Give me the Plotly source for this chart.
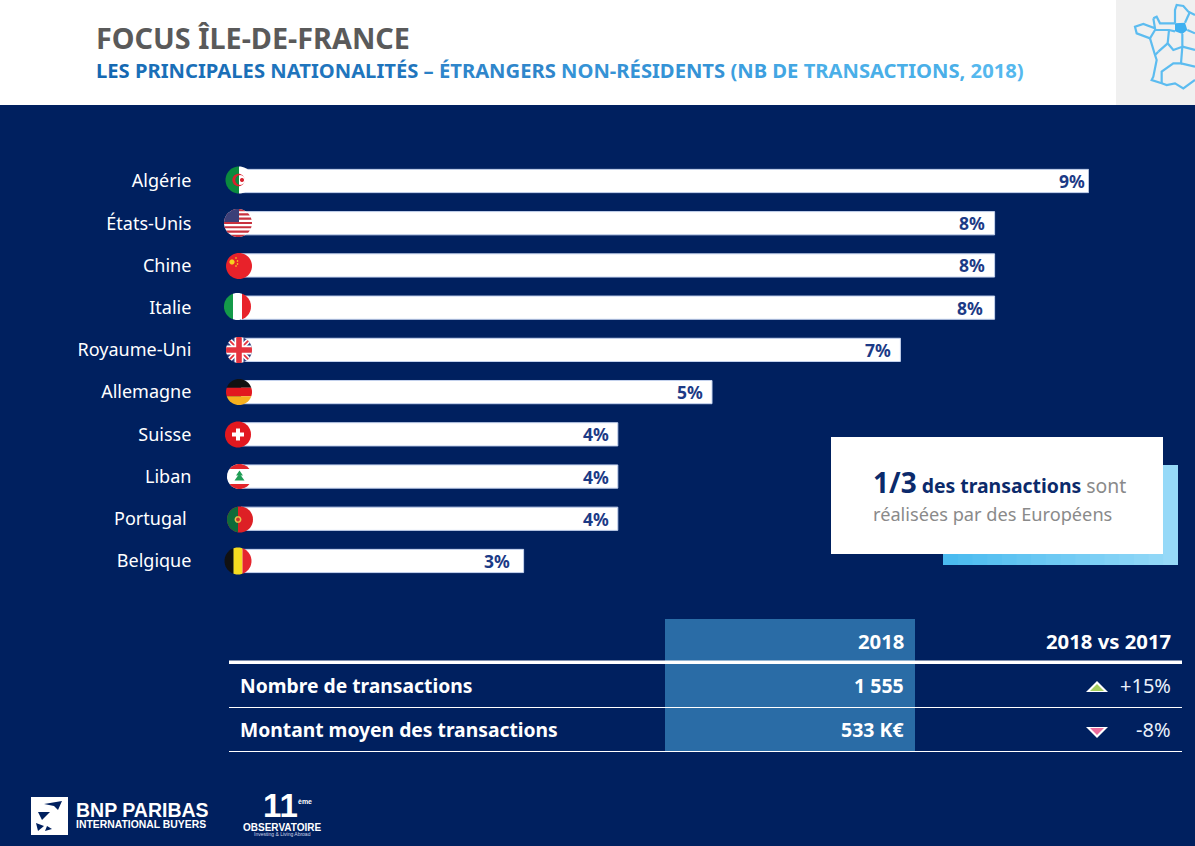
import math
import plotly.graph_objects as go

categories = ["Algérie", "États-Unis", "Chine", "Italie", "Royaume-Uni", "Allemagne", "Suisse", "Liban", "Portugal\u00a0", "Belgique"]
values = [9, 8, 8, 8, 7, 5, 4, 4, 4, 3]
value_labels = ["9%", "8%", "8%", "8%", "7%", "5%", "4%", "4%", "4%", "3%"]
label_shift = [-1.5, -7.5, -7.5, -9.5, -7.5, -7.5, -6.5, -6.5, -6.5, -11.5]
table_rows = ["Nombre de transactions", "Montant moyen des transactions"]
table_2018 = ["1 555", "533 K€"]
table_delta = ["+15%", "-8%"]
subtitle_words = ["LES", "PRINCIPALES", "NATIONALITÉS", "–", "ÉTRANGERS", "NON-RÉSIDENTS", "(NB", "DE", "TRANSACTIONS,", "2018)"]
subtitle_colors = ["#1468b2", "#1a6fb8", "#1f75bd", "#2a80c5", "#2f86cb", "#3593d6", "#3d9fdf", "#42a6e3", "#4aafe8", "#55b8ee"]

W, H = 1195, 846
NAVY = "#00205f"
FONT = "Noto Sans"
fig = go.Figure()
shapes = []
annots = []

def rect(x0, y0, x1, y1, color, layer="below"):
    shapes.append(dict(type="rect", xref="x2", yref="y2", x0=x0, y0=y0, x1=x1, y1=y1,
                       fillcolor=color, line_width=0, layer=layer))

def poly(points, color, layer="above"):
    p = "M" + " L".join(f"{a:.2f},{b:.2f}" for a, b in points) + " Z"
    shapes.append(dict(type="path", xref="x2", yref="y2", path=p, fillcolor=color, line_width=0, layer=layer))

def line(points, color, width, layer="above"):
    p = "M" + " L".join(f"{a:.2f},{b:.2f}" for a, b in points)
    shapes.append(dict(type="path", xref="x2", yref="y2", path=p, line=dict(color=color, width=width), layer=layer))

def text(x, y, s, size, color, anchor="left", bold=False, family=FONT):
    t = f"<b>{s}</b>" if bold else s
    annots.append(dict(xref="x2", yref="y2", x=x, y=y, text=t, showarrow=False, xanchor=anchor, yanchor="middle",
                       font=dict(size=size, color=color, family=family), borderpad=0, borderwidth=0))

def circle(cx, cy, r, n=48):
    return [(cx + r * math.cos(2 * math.pi * i / n), cy + r * math.sin(2 * math.pi * i / n)) for i in range(n)]

def clip(subject, clipper):
    out = subject
    for i in range(len(clipper)):
        a, b = clipper[i], clipper[(i + 1) % len(clipper)]
        inside = lambda p: (b[0] - a[0]) * (p[1] - a[1]) - (b[1] - a[1]) * (p[0] - a[0]) >= 0
        def cross(p, q):
            dx1, dy1 = q[0] - p[0], q[1] - p[1]
            dx2, dy2 = b[0] - a[0], b[1] - a[1]
            den = dx1 * dy2 - dy1 * dx2
            t = ((a[0] - p[0]) * dy2 - (a[1] - p[1]) * dx2) / den
            return (p[0] + t * dx1, p[1] + t * dy1)
        res = []
        for j in range(len(out)):
            p, q = out[j], out[(j + 1) % len(out)]
            if inside(p):
                res.append(p)
                if not inside(q):
                    res.append(cross(p, q))
            elif inside(q):
                res.append(cross(p, q))
        out = res
        if not out:
            break
    return out

def piece(cx, cy, r, x0, y0, x1, y1, color):
    c = [(cx + x0, cy + y0), (cx + x1, cy + y0), (cx + x1, cy + y1), (cx + x0, cy + y1)]
    poly(clip(circle(cx, cy, r), c), color)

def diag(cx, cy, r, x0, y0, x1, y1, w, color):
    dx, dy = x1 - x0, y1 - y0
    L = math.hypot(dx, dy)
    nx, ny = -dy / L * w / 2, dx / L * w / 2
    c = [(cx + x0 - nx, cy + y0 - ny), (cx + x1 - nx, cy + y1 - ny), (cx + x1 + nx, cy + y1 + ny), (cx + x0 + nx, cy + y0 + ny)]
    poly(clip(circle(cx, cy, r), c), color)

def flags():
    # Algeria
    cx, cy, r = 239, 180, 13.5
    piece(cx, cy, r, 0, -14, 14, 14, "#ffffff")
    piece(cx, cy, r, -14, -14, 0, 14, "#0b8a3e")
    poly(circle(cx - 0.5, cy, 6.2), "#d8202c")
    inner = circle(cx + 1.2, cy, 4.9)
    poly(clip(inner, [(cx - 8, cy - 8), (cx, cy - 8), (cx, cy + 8), (cx - 8, cy + 8)]), "#0b8a3e")
    poly(clip(inner, [(cx, cy - 8), (cx + 8, cy - 8), (cx + 8, cy + 8), (cx, cy + 8)]), "#ffffff")
    poly(circle(cx + 3, cy, 2), "#d8202c")
    # USA
    cx, cy, r = 238, 223, 14
    poly(circle(cx, cy, r), "#ffffff")
    for i in range(7):
        y0 = -14 + i * 4.3
        piece(cx, cy, r, -14, y0, 14, y0 + 2.15, "#c8313e")
    piece(cx, cy, r, -14, -14, 1, -1, "#3c3f78")
    # China
    cx, cy, r = 239, 266, 13
    poly(circle(cx, cy, r), "#e8222a")
    poly(circle(cx - 7, cy - 4, 2.6), "#f6d21e")
    for dx, dy in [(-3, -8), (-1.5, -5), (-1.5, -2), (-3, 0)]:
        poly(circle(cx + dx, cy + dy, 0.8), "#f6d21e")
    # Italy
    cx, cy, r = 237.5, 306.5, 13.5
    piece(cx, cy, r, -14, -14, -4.5, 14, "#149a49")
    piece(cx, cy, r, -4.5, -14, 4.5, 14, "#ffffff")
    piece(cx, cy, r, 4.5, -14, 14, 14, "#e8222a")
    # UK
    cx, cy, r = 239, 350, 13
    poly(circle(cx, cy, r), "#2f3f80")
    diag(cx, cy, r, -13, -13, 13, 13, 5, "#ffffff")
    diag(cx, cy, r, -13, 13, 13, -13, 5, "#ffffff")
    diag(cx, cy, r, -13, -13, 13, 13, 1.8, "#e5323e")
    diag(cx, cy, r, -13, 13, 13, -13, 1.8, "#e5323e")
    piece(cx, cy, r, -4.5, -14, 4.5, 14, "#ffffff")
    piece(cx, cy, r, -14, -4.5, 14, 4.5, "#ffffff")
    piece(cx, cy, r, -2.8, -14, 2.8, 14, "#e5323e")
    piece(cx, cy, r, -14, -2.8, 14, 2.8, "#e5323e")
    # Germany
    cx, cy, r = 239, 392, 13
    piece(cx, cy, r, -14, -14, 14, -4.3, "#111111")
    piece(cx, cy, r, -14, -4.3, 14, 4.3, "#e2181f")
    piece(cx, cy, r, -14, 4.3, 14, 14, "#f6b01e")
    # Switzerland
    cx, cy, r = 238, 434.5, 13
    poly(circle(cx, cy, r), "#e2181f")
    piece(cx, cy, r, -6, -2, 6, 2, "#ffffff")
    piece(cx, cy, r, -2, -6, 2, 6, "#ffffff")
    # Lebanon
    cx, cy, r = 239.5, 476.5, 12.5
    poly(circle(cx, cy, r), "#ffffff")
    piece(cx, cy, r, -14, -14, 14, -7.5, "#e2252b")
    piece(cx, cy, r, -14, 7.5, 14, 14, "#e2252b")
    poly([(cx, cy - 6), (cx + 3.5, cy - 1), (cx - 3.5, cy - 1)], "#1f9d55")
    poly([(cx, cy - 3), (cx + 5, cy + 4), (cx - 5, cy + 4)], "#1f9d55")
    # Portugal
    cx, cy, r = 240, 519.5, 13
    poly(circle(cx, cy, r), "#dd2025")
    piece(cx, cy, r, -14, -14, -2, 14, "#0f6b3a")
    poly(circle(cx - 2, cy, 3.4), "#e6c34a")
    poly(circle(cx - 2, cy, 1.9), "#c9302c")
    # Belgium
    cx, cy, r = 238, 561, 13.5
    piece(cx, cy, r, -14, -14, -4.5, 14, "#111111")
    piece(cx, cy, r, -4.5, -14, 4.5, 14, "#f6dc20")
    piece(cx, cy, r, 4.5, -14, 14, 14, "#e5262e")

# background bands
rect(0, 0, W, 105, "#ffffff")
rect(1116, 0, W, 105, "#f0f0f0")

# bars, through the axes
bar_left, unit = 241, 94.2
row0, row_step = 181, 42.22
fig.add_trace(go.Bar(
    y=categories, x=values, orientation="h", width=0.55, xaxis="x", yaxis="y",
    marker=dict(color="#ffffff", line=dict(color="#c4d2ee", width=1)),
    hoverinfo="skip", showlegend=False))
for c, v, s, dx in zip(categories, values, value_labels, label_shift):
    annots.append(dict(xref="x", yref="y", x=v, y=c, text=f"<b>{s}</b>", showarrow=False, xanchor="right",
                       yanchor="middle", xshift=dx, yshift=0, font=dict(size=17.5, color="#1c3a86", family=FONT)))

flags()

# title
text(96, 37.5, "FOCUS ÎLE-DE-FRANCE", 28.8, "#5a5a5a", bold=True)
subtitle = " ".join(f"<span style='color:{c}'>{w}</span>" for w, c in zip(subtitle_words, subtitle_colors))
text(96, 70, subtitle, 20.2, "#1a6ab0", bold=True)

# France map
mapc = "#5cbcf0"
z = lambda pts: [(1095 + a / 3, b / 3) for a, b in pts]
poly(z([(240, 70), (270, 68), (277, 90), (262, 102), (240, 94)]), "#3fb0f0")
for pts in [
    [(300, 45), (280, 35), (265, 18), (245, 15), (240, 30), (240, 70)],
    [(175, 55), (185, 50), (195, 70), (240, 70)],
    [(175, 55), (180, 85), (145, 72), (120, 80), (125, 100), (165, 115), (180, 90), (222, 90), (240, 94)],
    [(270, 68), (285, 35)], [(277, 90), (300, 100)],
    [(165, 115), (180, 165), (185, 180), (175, 230), (170, 240), (200, 250), (215, 255), (240, 250), (265, 265), (300, 240)],
    [(222, 90), (218, 130), (235, 150), (262, 140), (262, 102)],
    [(262, 140), (300, 150)],
    [(190, 155), (218, 130)], [(190, 155), (180, 165)],
    [(262, 140), (258, 190), (235, 190), (200, 215), (200, 250)],
    [(258, 190), (300, 200)],
]:
    line(z(pts), mapc, 2.2)

# call-out, with its light-blue gradient strip
steps = 16
for i in range(steps):
    t = i / (steps - 1)
    col = f"rgb({int(74 + t * 76)},{int(187 + t * 30)},{int(240 + t * 8)})"
    x0 = 943 + i * (1178 - 943) / steps
    rect(x0, 465, min(x0 + (1178 - 943) / steps + 1, 1178), 565, col)
rect(831, 437, 1163, 554, "#ffffff")
text(873, 482, "<b style='font-size:28px;color:#0b2a6b'>1/3</b> <b style='color:#0b2a6b'>des transactions</b> <span style='color:#8a8a8a'>sont</span>", 19.4, "#0b2a6b")
text(873, 514, "réalisées par des Européens", 18.2, "#8a8a8a")

# table
rect(665, 619, 915, 751, "#2a6ca6")
rect(229, 660.5, 1182, 664, "#ffffff", "above")
rect(229, 707, 1182, 708, "#ffffff", "above")
rect(229, 751, 1182, 752, "#ffffff", "above")
text(904, 641, "2018", 20.3, "#ffffff", "right", True)
text(1171, 641, "2018 vs 2017", 20.3, "#ffffff", "right", True)
for yy, row, a, d in zip([685, 729], table_rows, table_2018, table_delta):
    text(240, yy, row, 19.3, "#ffffff", "left", True)
    text(904, yy, a, 19.5, "#ffffff", "right", True)
    text(1171, yy, d, 20, "#eaf0fb", "right")
poly([(1097, 681), (1108, 692), (1086, 692)], "#ffffff")
poly([(1097, 684), (1104, 691), (1090, 691)], "#a6cf5f")
poly([(1097, 738), (1108, 727), (1086, 727)], "#ffffff")
poly([(1097, 735), (1104, 728), (1090, 728)], "#ec6b9c")

# logos
rect(31, 797, 68, 835, "#ffffff", "above")
for pts in [[(44, 804), (62, 801), (58, 810), (54, 806)], [(38, 812), (50, 812), (42, 820)], [(36, 823), (44, 826), (38, 831)], [(47, 826), (52, 829), (45, 831)]]:
    poly(pts, NAVY)
text(76, 810, "BNP PARIBAS", 19.5, "#ffffff", bold=True, family="Liberation Sans")
text(76, 824, "INTERNATIONAL BUYERS", 10.4, "#ffffff", bold=True, family="Liberation Sans")
text(263, 805, "11", 33, "#ffffff", bold=True, family="Liberation Sans")
text(298, 801, "ème", 7, "#ffffff", bold=True, family="Liberation Sans")
text(282, 827, "OBSERVATOIRE", 10, "#ffffff", "center", True, family="Liberation Sans")
text(282, 834, "Investing &amp; Living Abroad", 5, "#cfd8ea", "center", family="Liberation Sans")

fig.update_layout(
    width=W, height=H, autosize=False, margin=dict(l=0, r=0, t=0, b=0, pad=0),
    paper_bgcolor=NAVY, plot_bgcolor="rgba(0,0,0,0)", shapes=shapes, annotations=annots, showlegend=False,
    xaxis=dict(domain=[bar_left / W, (bar_left + 9 * unit) / W], range=[0, 9], visible=False, fixedrange=True),
    yaxis=dict(domain=[1 - (row0 + 9.5 * row_step) / H, 1 - (row0 - 0.5 * row_step) / H], anchor="free", position=bar_left / W,
               categoryorder="array", categoryarray=categories, autorange="reversed",
               showline=False, showgrid=False, zeroline=False, ticks="outside", ticklen=46, tickcolor="rgba(0,0,0,0)",
               tickfont=dict(size=18, color="#ffffff", family=FONT)),
    xaxis2=dict(domain=[0, 1], range=[0, W], visible=False, anchor="y2", fixedrange=True),
    yaxis2=dict(domain=[0, 1], range=[H, 0], visible=False, anchor="x2", fixedrange=True),
)
fig.write_html("out.html", config=dict(displayModeBar=False),
               post_script="document.body.style.margin='0';document.body.style.overflow='hidden';")
